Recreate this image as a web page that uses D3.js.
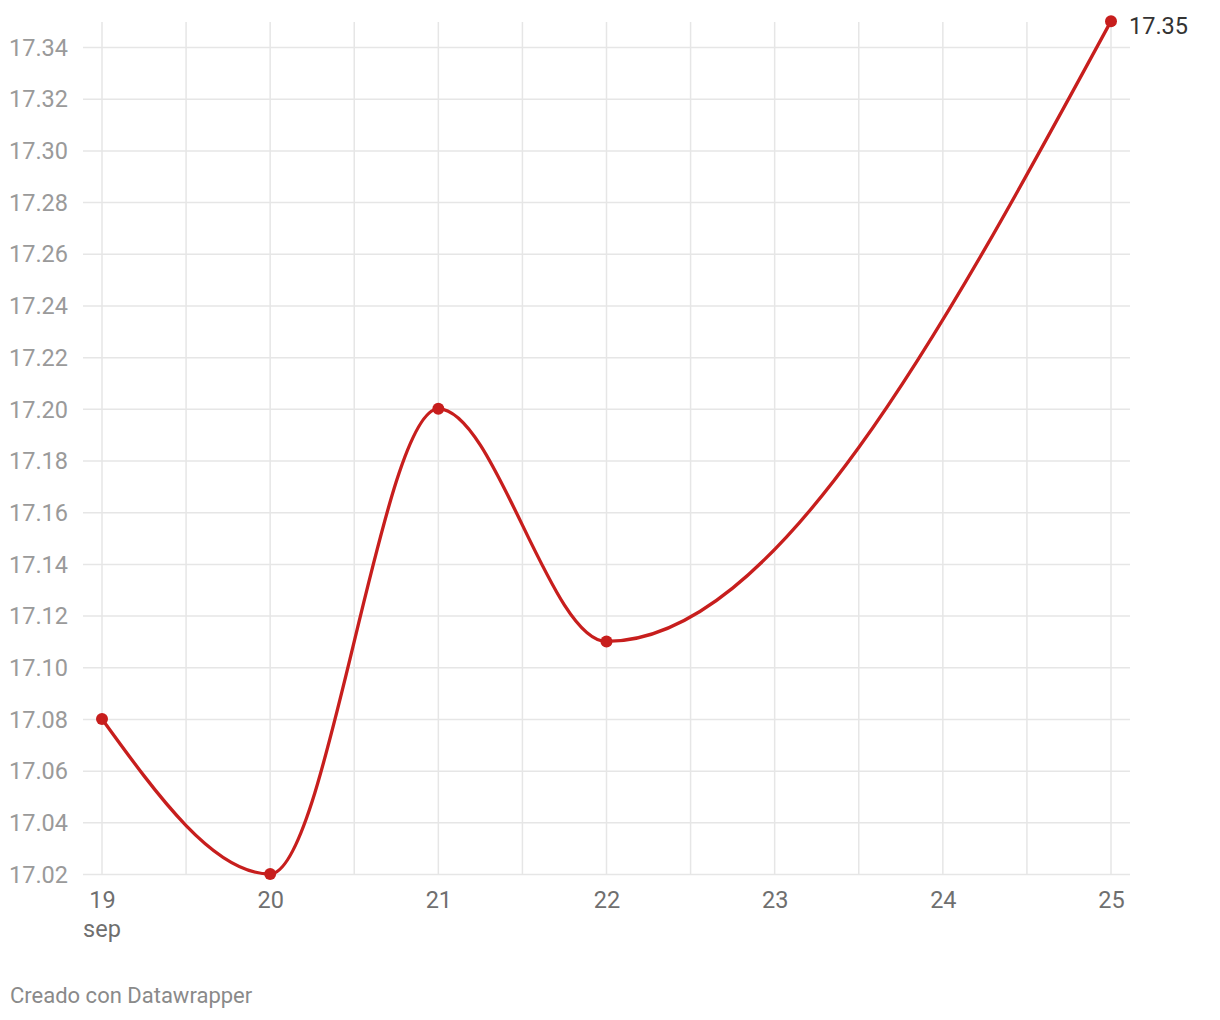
<!DOCTYPE html>
<html><head><meta charset="utf-8">
<script src="https://cdn.jsdelivr.net/npm/d3@7"></script>
<style>body{margin:0;background:#fff;font-family:Roboto,sans-serif;}</style>
</head><body><svg id="c" width="1220" height="1020"></svg>
<script>
const days = [19, 20, 21, 22, 25];
const values = [17.08, 17.02, 17.20, 17.11, 17.35];
const xTicks = [19, 20, 21, 22, 23, 24, 25];
const xTickLabels = ["19", "20", "21", "22", "23", "24", "25"];
const yTicks = [17.02,17.04,17.06,17.08,17.10,17.12,17.14,17.16,17.18,17.20,17.22,17.24,17.26,17.28,17.30,17.32,17.34];
const monthLabel = "sep";
const footer = "Creado con Datawrapper";

const svg = d3.select("#c");
const x = d3.scaleLinear().domain([19, 25]).range([102, 1111]);
const y = d3.scaleLinear().domain([17.02, 17.34]).range([874, 47]);
const col = "#c71e1d";
const fs = 23.5;

// vertical grid (whole + half days)
const vgrid = d3.range(19, 25.01, 0.5);
svg.append("g").selectAll("line").data(vgrid).join("line")
  .attr("x1", d => x(d)).attr("x2", d => x(d))
  .attr("y1", 22).attr("y2", y(17.02))
  .attr("stroke", "#e6e6e6").attr("stroke-width", 1.5);

// horizontal grid
const yAxis = d3.axisLeft(y).tickValues(yTicks).tickSize(-(1130 - 83)).tickFormat(d3.format(".2f"));
const gy = svg.append("g").attr("transform", "translate(83,0)").call(yAxis);
gy.select(".domain").remove();
gy.selectAll(".tick line").attr("stroke", "#e6e6e6").attr("stroke-width", 1.5);
gy.selectAll(".tick text").attr("x", -74).attr("text-anchor", "start")
  .attr("fill", "#9a9a9a").attr("font-size", fs).attr("font-family", "Roboto").attr("dy", "0.35em");

// x axis labels
const xAxis = d3.axisBottom(x).tickValues(xTicks).tickSize(0).tickFormat((d, i) => xTickLabels[i]);
const gx = svg.append("g").attr("transform", `translate(0,${y(17.02)})`).call(xAxis);
gx.select(".domain").remove();
gx.selectAll(".tick text").attr("y", 34).attr("dy", 0).attr("fill", "#6f6f6f")
  .attr("font-size", fs).attr("font-family", "Roboto");
svg.append("text").attr("x", x(19)).attr("y", y(17.02) + 63).attr("text-anchor", "middle")
  .attr("fill", "#6f6f6f").attr("font-size", fs).attr("font-family", "Roboto").text(monthLabel);

// line
const data = days.map((d, i) => ({d, v: values[i]}));
const line = d3.line().x(p => x(p.d)).y(p => y(p.v)).curve(d3.curveMonotoneX);
svg.append("path").datum(data).attr("d", line).attr("fill", "none")
  .attr("stroke", col).attr("stroke-width", 3.3).attr("stroke-linejoin", "round");
svg.append("g").selectAll("circle").data(data).join("circle")
  .attr("cx", p => x(p.d)).attr("cy", p => y(p.v)).attr("r", 6).attr("fill", col);

// last value label
const last = data[data.length - 1];
svg.append("text").attr("x", x(last.d) + 18).attr("y", y(last.v) + 13)
  .attr("fill", "#333").attr("font-size", fs).attr("font-family", "Roboto").text(d3.format(".2f")(last.v));

svg.append("text").attr("x", 10).attr("y", 1003).attr("fill", "#8a8a8a")
  .attr("font-size", 22).attr("font-family", "Roboto").text(footer);
</script></body></html>
